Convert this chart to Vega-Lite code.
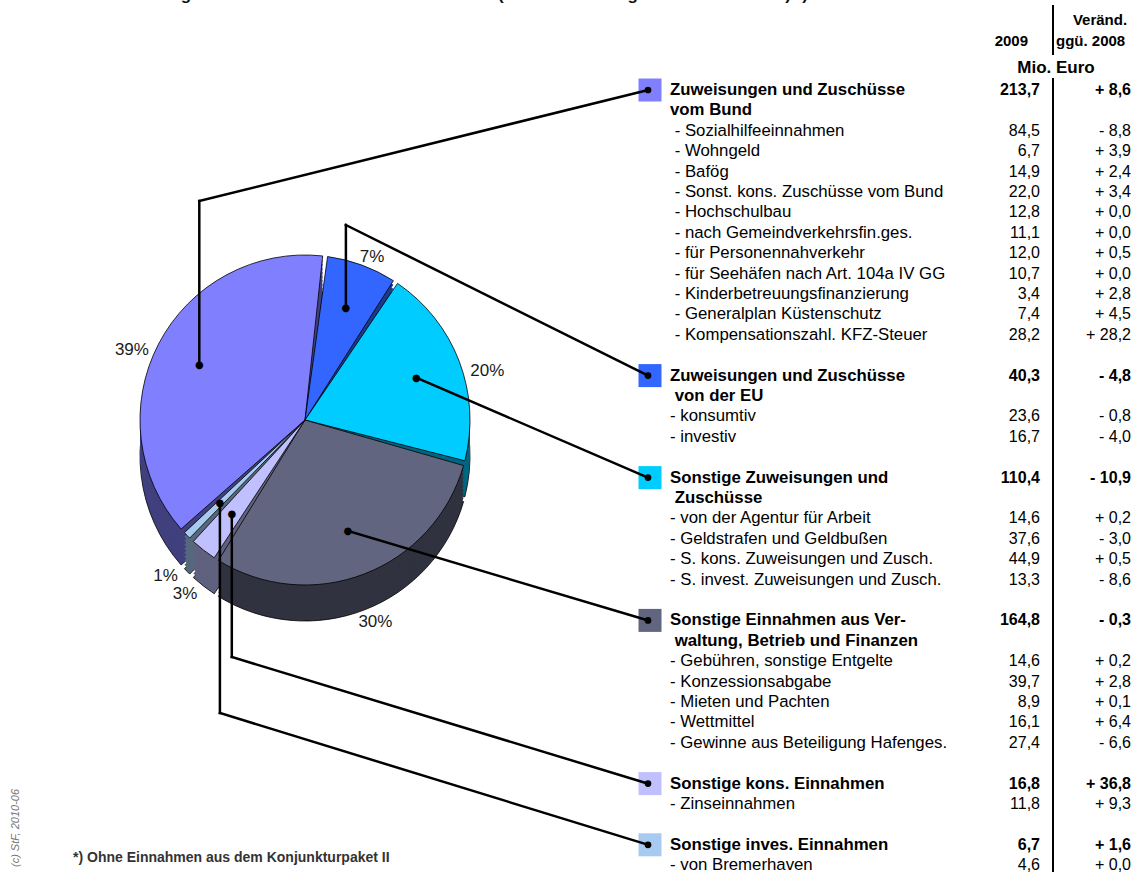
{
  "$schema": "https://vega.github.io/schema/vega-lite/v6.json",
  "width": 1147,
  "height": 872,
  "autosize": "none",
  "padding": 0,
  "config": {
    "view": {"stroke": null},
    "font": "Liberation Sans",
    "locale": {
      "number": {"decimal": ",", "thousands": ".", "grouping": [3], "currency": ["", "\u00a0€"]}
    }
  },
  "datasets": {
    "blatt": [{}],
    "tabelle": [
      {"art": "Summe", "bezeichnung": "Zuweisungen und Zuschüsse", "gruppe": "Zuweisungen und Zuschüsse vom Bund", "wert": 213.7, "veraend": "+ 8,6"},
      {"art": "Zeile2", "bezeichnung": "vom Bund"},
      {"art": "davon", "bezeichnung": "\u200b\u00a0- Sozialhilfeeinnahmen", "wert": 84.5, "veraend": "- 8,8"},
      {"art": "davon", "bezeichnung": "\u200b\u00a0- Wohngeld", "wert": 6.7, "veraend": "+ 3,9"},
      {"art": "davon", "bezeichnung": "\u200b\u00a0- Bafög", "wert": 14.9, "veraend": "+ 2,4"},
      {"art": "davon", "bezeichnung": "\u200b\u00a0- Sonst. kons. Zuschüsse vom Bund", "wert": 22.0, "veraend": "+ 3,4"},
      {"art": "davon", "bezeichnung": "\u200b\u00a0- Hochschulbau", "wert": 12.8, "veraend": "+ 0,0"},
      {"art": "davon", "bezeichnung": "\u200b\u00a0- nach Gemeindverkehrsfin.ges.", "wert": 11.1, "veraend": "+ 0,0"},
      {"art": "davon", "bezeichnung": "\u200b\u00a0- für Personennahverkehr", "wert": 12.0, "veraend": "+ 0,5"},
      {"art": "davon", "bezeichnung": "\u200b\u00a0- für Seehäfen nach Art. 104a IV GG", "wert": 10.7, "veraend": "+ 0,0"},
      {"art": "davon", "bezeichnung": "\u200b\u00a0- Kinderbetreuungsfinanzierung", "wert": 3.4, "veraend": "+ 2,8"},
      {"art": "davon", "bezeichnung": "\u200b\u00a0- Generalplan Küstenschutz", "wert": 7.4, "veraend": "+ 4,5"},
      {"art": "davon", "bezeichnung": "\u200b\u00a0- Kompensationszahl. KFZ-Steuer", "wert": 28.2, "veraend": "+ 28,2"},
      {"art": "leer"},
      {"art": "Summe", "bezeichnung": "Zuweisungen und Zuschüsse", "gruppe": "Zuweisungen und Zuschüsse von der EU", "wert": 40.3, "veraend": "- 4,8"},
      {"art": "Zeile2", "bezeichnung": "\u200b\u00a0von der EU"},
      {"art": "davon", "bezeichnung": "- konsumtiv", "wert": 23.6, "veraend": "- 0,8"},
      {"art": "davon", "bezeichnung": "- investiv", "wert": 16.7, "veraend": "- 4,0"},
      {"art": "leer"},
      {"art": "Summe", "bezeichnung": "Sonstige Zuweisungen und", "gruppe": "Sonstige Zuweisungen und Zuschüsse", "wert": 110.4, "veraend": "- 10,9"},
      {"art": "Zeile2", "bezeichnung": "\u200b\u00a0Zuschüsse"},
      {"art": "davon", "bezeichnung": "- von der Agentur für Arbeit", "wert": 14.6, "veraend": "+ 0,2"},
      {"art": "davon", "bezeichnung": "- Geldstrafen und Geldbußen", "wert": 37.6, "veraend": "- 3,0"},
      {"art": "davon", "bezeichnung": "- S. kons. Zuweisungen und Zusch.", "wert": 44.9, "veraend": "+ 0,5"},
      {"art": "davon", "bezeichnung": "- S. invest. Zuweisungen und Zusch.", "wert": 13.3, "veraend": "- 8,6"},
      {"art": "leer"},
      {"art": "Summe", "bezeichnung": "Sonstige Einnahmen aus Ver-", "gruppe": "Sonstige Einnahmen aus Verwaltung, Betrieb und Finanzen", "wert": 164.8, "veraend": "- 0,3"},
      {"art": "Zeile2", "bezeichnung": "\u200b\u00a0waltung, Betrieb und Finanzen"},
      {"art": "davon", "bezeichnung": "- Gebühren, sonstige Entgelte", "wert": 14.6, "veraend": "+ 0,2"},
      {"art": "davon", "bezeichnung": "- Konzessionsabgabe", "wert": 39.7, "veraend": "+ 2,8"},
      {"art": "davon", "bezeichnung": "- Mieten und Pachten", "wert": 8.9, "veraend": "+ 0,1"},
      {"art": "davon", "bezeichnung": "- Wettmittel", "wert": 16.1, "veraend": "+ 6,4"},
      {"art": "davon", "bezeichnung": "- Gewinne aus Beteiligung Hafenges.", "wert": 27.4, "veraend": "- 6,6"},
      {"art": "leer"},
      {"art": "Summe", "bezeichnung": "Sonstige kons. Einnahmen", "gruppe": "Sonstige kons. Einnahmen", "wert": 16.8, "veraend": "+ 36,8"},
      {"art": "davon", "bezeichnung": "- Zinseinnahmen", "wert": 11.8, "veraend": "+ 9,3"},
      {"art": "leer"},
      {"art": "Summe", "bezeichnung": "Sonstige inves. Einnahmen", "gruppe": "Sonstige inves. Einnahmen", "wert": 6.7, "veraend": "+ 1,6"},
      {"art": "davon", "bezeichnung": "- von Bremerhaven", "wert": 4.6, "veraend": "+ 0,0"}
    ]
  },
  "layer": [
    {
      "data": {"name": "blatt"},
      "mark": {"type": "text", "x": 55, "y": 0, "align": "left", "baseline": "alphabetic", "fontSize": 17, "fontWeight": "bold", "fill": "#111",
        "text": "Bremen: Sonstige Einnahmen der Kernhaushalte 2009 (Land und Stadtgemeinden Bremen) *)"}
    },
    {
      "data": {"name": "tabelle"},
      "transform": [{"window": [{"op": "row_number", "as": "zeile"}]}],
      "layer": [
        {
          "transform": [
            {"filter": "datum.art === 'Summe'"},
            {"joinaggregate": [{"op": "sum", "field": "wert", "as": "gesamt"}]},
            {"calculate": "datum.wert / datum.gesamt", "as": "anteil"}
          ],
          "encoding": {
            "theta": {"field": "wert", "type": "quantitative", "stack": true, "scale": {"range": [-2.3071, 3.9761]}},
            "order": {"field": "zeile", "type": "quantitative"}
          },
          "layer": [
            {"mark": {"type": "arc", "x": 305, "y": 456, "outerRadius": 165, "padAngle": 0.03, "stroke": "#000", "strokeWidth": 0.8},
             "encoding": {"color": {"field": "gruppe", "type": "nominal", "legend": null,
               "scale": {"domain": ["Zuweisungen und Zuschüsse vom Bund", "Zuweisungen und Zuschüsse von der EU", "Sonstige Zuweisungen und Zuschüsse", "Sonstige Einnahmen aus Verwaltung, Betrieb und Finanzen", "Sonstige kons. Einnahmen", "Sonstige inves. Einnahmen"],
                         "range": ["#40407f", "#1c3a8c", "#006680", "#30323f", "#60607f", "#55687c"]}}}},
            {"mark": {"type": "arc", "x": 305, "y": 452, "outerRadius": 165, "padAngle": 0.03, "strokeWidth": 0}, "encoding": {"color": {"field": "gruppe", "type": "nominal", "legend": null}}},
            {"mark": {"type": "arc", "x": 305, "y": 448, "outerRadius": 165, "padAngle": 0.03, "strokeWidth": 0}, "encoding": {"color": {"field": "gruppe", "type": "nominal", "legend": null}}},
            {"mark": {"type": "arc", "x": 305, "y": 444, "outerRadius": 165, "padAngle": 0.03, "strokeWidth": 0}, "encoding": {"color": {"field": "gruppe", "type": "nominal", "legend": null}}},
            {"mark": {"type": "arc", "x": 305, "y": 440, "outerRadius": 165, "padAngle": 0.03, "strokeWidth": 0}, "encoding": {"color": {"field": "gruppe", "type": "nominal", "legend": null}}},
            {"mark": {"type": "arc", "x": 305, "y": 436, "outerRadius": 165, "padAngle": 0.03, "strokeWidth": 0}, "encoding": {"color": {"field": "gruppe", "type": "nominal", "legend": null}}},
            {"mark": {"type": "arc", "x": 305, "y": 432, "outerRadius": 165, "padAngle": 0.03, "strokeWidth": 0}, "encoding": {"color": {"field": "gruppe", "type": "nominal", "legend": null}}},
            {"mark": {"type": "arc", "x": 305, "y": 428, "outerRadius": 165, "padAngle": 0.03, "strokeWidth": 0}, "encoding": {"color": {"field": "gruppe", "type": "nominal", "legend": null}}},
            {"mark": {"type": "arc", "x": 305, "y": 424, "outerRadius": 165, "padAngle": 0.03, "strokeWidth": 0}, "encoding": {"color": {"field": "gruppe", "type": "nominal", "legend": null}}},
            {"mark": {"type": "arc", "x": 305, "y": 420, "outerRadius": 165, "padAngle": 0.03, "stroke": "#000", "strokeWidth": 0.8},
             "encoding": {"fill": {"field": "gruppe", "type": "nominal", "legend": null,
               "scale": {"domain": ["Zuweisungen und Zuschüsse vom Bund", "Zuweisungen und Zuschüsse von der EU", "Sonstige Zuweisungen und Zuschüsse", "Sonstige Einnahmen aus Verwaltung, Betrieb und Finanzen", "Sonstige kons. Einnahmen", "Sonstige inves. Einnahmen"],
                         "range": ["#8080ff", "#3366ff", "#00ccff", "#62657f", "#c0c0ff", "#a6caf0"]}}}},
            {"mark": {"type": "text", "x": 305, "y": 420, "radius": 195, "dy": 20, "fontSize": 17, "fill": "#1a1a1a", "align": "center", "baseline": "middle"},
             "encoding": {"text": {"field": "anteil", "type": "quantitative", "format": ".0%"}}},
            {"mark": {"type": "text", "x": 305, "y": 420, "radius": 119, "font": "DejaVu Sans", "fontSize": 10, "fill": "#000", "align": "center", "baseline": "middle", "text": "●"}}
          ]
        },
        {
          "encoding": {
            "y": {"field": "zeile", "type": "quantitative", "axis": null,
                  "scale": {"domain": [-3.4118, 39.3333], "range": [0, 872], "nice": false, "zero": false}}
          },
          "layer": [
            {"transform": [{"filter": "datum.art === 'Summe'"}],
             "mark": {"type": "point", "shape": "square", "x": 650, "size": 529, "filled": true, "opacity": 1, "strokeWidth": 0},
             "encoding": {"fill": {"field": "gruppe", "type": "nominal", "legend": null}}},
            {"transform": [{"filter": "datum.art === 'Summe'"}],
             "mark": {"type": "point", "shape": "circle", "x": 648, "size": 45, "filled": true, "opacity": 1, "color": "#000"}},
            {"transform": [{"filter": "datum.art === 'Summe' || datum.art === 'Zeile2'"}],
             "mark": {"type": "text", "x": 670, "align": "left", "baseline": "middle", "fontSize": 16.8, "fontWeight": "bold", "fill": "#000"},
             "encoding": {"text": {"field": "bezeichnung"}}},
            {"transform": [{"filter": "datum.art === 'davon'"}],
             "mark": {"type": "text", "x": 670, "align": "left", "baseline": "middle", "fontSize": 16.8, "fill": "#000"},
             "encoding": {"text": {"field": "bezeichnung"}}},
            {"transform": [{"filter": "datum.art === 'Summe'"}],
             "mark": {"type": "text", "x": 1040, "align": "right", "baseline": "middle", "fontSize": 16, "fontWeight": "bold", "fill": "#000"},
             "encoding": {"text": {"field": "wert", "type": "quantitative", "format": ".1f"}}},
            {"transform": [{"filter": "datum.art === 'davon'"}],
             "mark": {"type": "text", "x": 1040, "align": "right", "baseline": "middle", "fontSize": 16, "fill": "#000"},
             "encoding": {"text": {"field": "wert", "type": "quantitative", "format": ".1f"}}},
            {"transform": [{"filter": "datum.art === 'Summe'"}],
             "mark": {"type": "text", "x": 1131, "align": "right", "baseline": "middle", "fontSize": 16, "fontWeight": "bold", "fill": "#000"},
             "encoding": {"text": {"field": "veraend"}}},
            {"transform": [{"filter": "datum.art === 'davon'"}],
             "mark": {"type": "text", "x": 1131, "align": "right", "baseline": "middle", "fontSize": 16, "fill": "#000"},
             "encoding": {"text": {"field": "veraend"}}}
          ]
        }
      ]
    },
    {"data": {"name": "blatt"}, "mark": {"type": "rule", "strokeWidth": 2.5, "color": "#000", "strokeCap": "square"},
     "encoding": {"x": {"value": 199.3}, "y": {"value": 365.4}, "x2": {"value": 199.3}, "y2": {"value": 201}}},
    {"data": {"name": "blatt"}, "mark": {"type": "rule", "strokeWidth": 2.5, "color": "#000", "strokeCap": "square"},
     "encoding": {"x": {"value": 199.3}, "y": {"value": 201}, "x2": {"value": 648}, "y2": {"value": 90}}},
    {"data": {"name": "blatt"}, "mark": {"type": "rule", "strokeWidth": 2.5, "color": "#000", "strokeCap": "square"},
     "encoding": {"x": {"value": 345.9}, "y": {"value": 308.3}, "x2": {"value": 345.9}, "y2": {"value": 225}}},
    {"data": {"name": "blatt"}, "mark": {"type": "rule", "strokeWidth": 2.5, "color": "#000", "strokeCap": "square"},
     "encoding": {"x": {"value": 345.9}, "y": {"value": 225}, "x2": {"value": 648}, "y2": {"value": 375.6}}},
    {"data": {"name": "blatt"}, "mark": {"type": "rule", "strokeWidth": 2.5, "color": "#000", "strokeCap": "square"},
     "encoding": {"x": {"value": 416.2}, "y": {"value": 377.7}, "x2": {"value": 648}, "y2": {"value": 477.6}}},
    {"data": {"name": "blatt"}, "mark": {"type": "rule", "strokeWidth": 2.5, "color": "#000", "strokeCap": "square"},
     "encoding": {"x": {"value": 348.0}, "y": {"value": 531.0}, "x2": {"value": 648}, "y2": {"value": 620.4}}},
    {"data": {"name": "blatt"}, "mark": {"type": "rule", "strokeWidth": 2.5, "color": "#000", "strokeCap": "square"},
     "encoding": {"x": {"value": 231.8}, "y": {"value": 513.8}, "x2": {"value": 231.8}, "y2": {"value": 657}}},
    {"data": {"name": "blatt"}, "mark": {"type": "rule", "strokeWidth": 2.5, "color": "#000", "strokeCap": "square"},
     "encoding": {"x": {"value": 231.8}, "y": {"value": 657}, "x2": {"value": 648}, "y2": {"value": 783.6}}},
    {"data": {"name": "blatt"}, "mark": {"type": "rule", "strokeWidth": 2.5, "color": "#000", "strokeCap": "square"},
     "encoding": {"x": {"value": 219.9}, "y": {"value": 503.2}, "x2": {"value": 219.9}, "y2": {"value": 713}}},
    {"data": {"name": "blatt"}, "mark": {"type": "rule", "strokeWidth": 2.5, "color": "#000", "strokeCap": "square"},
     "encoding": {"x": {"value": 219.9}, "y": {"value": 713}, "x2": {"value": 648}, "y2": {"value": 844.8}}},
    {"data": {"name": "blatt"}, "mark": {"type": "rule", "strokeWidth": 2, "color": "#000"},
     "encoding": {"x": {"value": 1053}, "y": {"value": 5}, "x2": {"value": 1053}, "y2": {"value": 55}}},
    {"data": {"name": "blatt"}, "mark": {"type": "rule", "strokeWidth": 2, "color": "#000"},
     "encoding": {"x": {"value": 1053}, "y": {"value": 78}, "x2": {"value": 1053}, "y2": {"value": 872}}},
    {"data": {"name": "blatt"}, "mark": {"type": "text", "x": 1100, "y": 20, "align": "center", "baseline": "middle", "fontSize": 15, "fontWeight": "bold", "fill": "#000", "text": "Veränd."}},
    {"data": {"name": "blatt"}, "mark": {"type": "text", "x": 1028, "y": 41, "align": "right", "baseline": "middle", "fontSize": 15, "fontWeight": "bold", "fill": "#000", "text": "2009"}},
    {"data": {"name": "blatt"}, "mark": {"type": "text", "x": 1056, "y": 41, "align": "left", "baseline": "middle", "fontSize": 15, "fontWeight": "bold", "fill": "#000", "text": "ggü. 2008"}},
    {"data": {"name": "blatt"}, "mark": {"type": "text", "x": 1056, "y": 68, "align": "center", "baseline": "middle", "fontSize": 17, "fontWeight": "bold", "fill": "#000", "text": "Mio. Euro"}},
    {"data": {"name": "blatt"}, "mark": {"type": "text", "x": 73, "y": 858, "align": "left", "baseline": "middle", "fontSize": 14, "fontWeight": "bold", "fill": "#333", "text": "*) Ohne Einnahmen aus dem Konjunkturpaket II"}},
    {"data": {"name": "blatt"}, "mark": {"type": "text", "x": 16, "y": 828, "angle": 270, "align": "center", "baseline": "middle", "fontSize": 11, "fontStyle": "italic", "fill": "#777", "text": "(c) StF, 2010-06"}}
  ]
}
